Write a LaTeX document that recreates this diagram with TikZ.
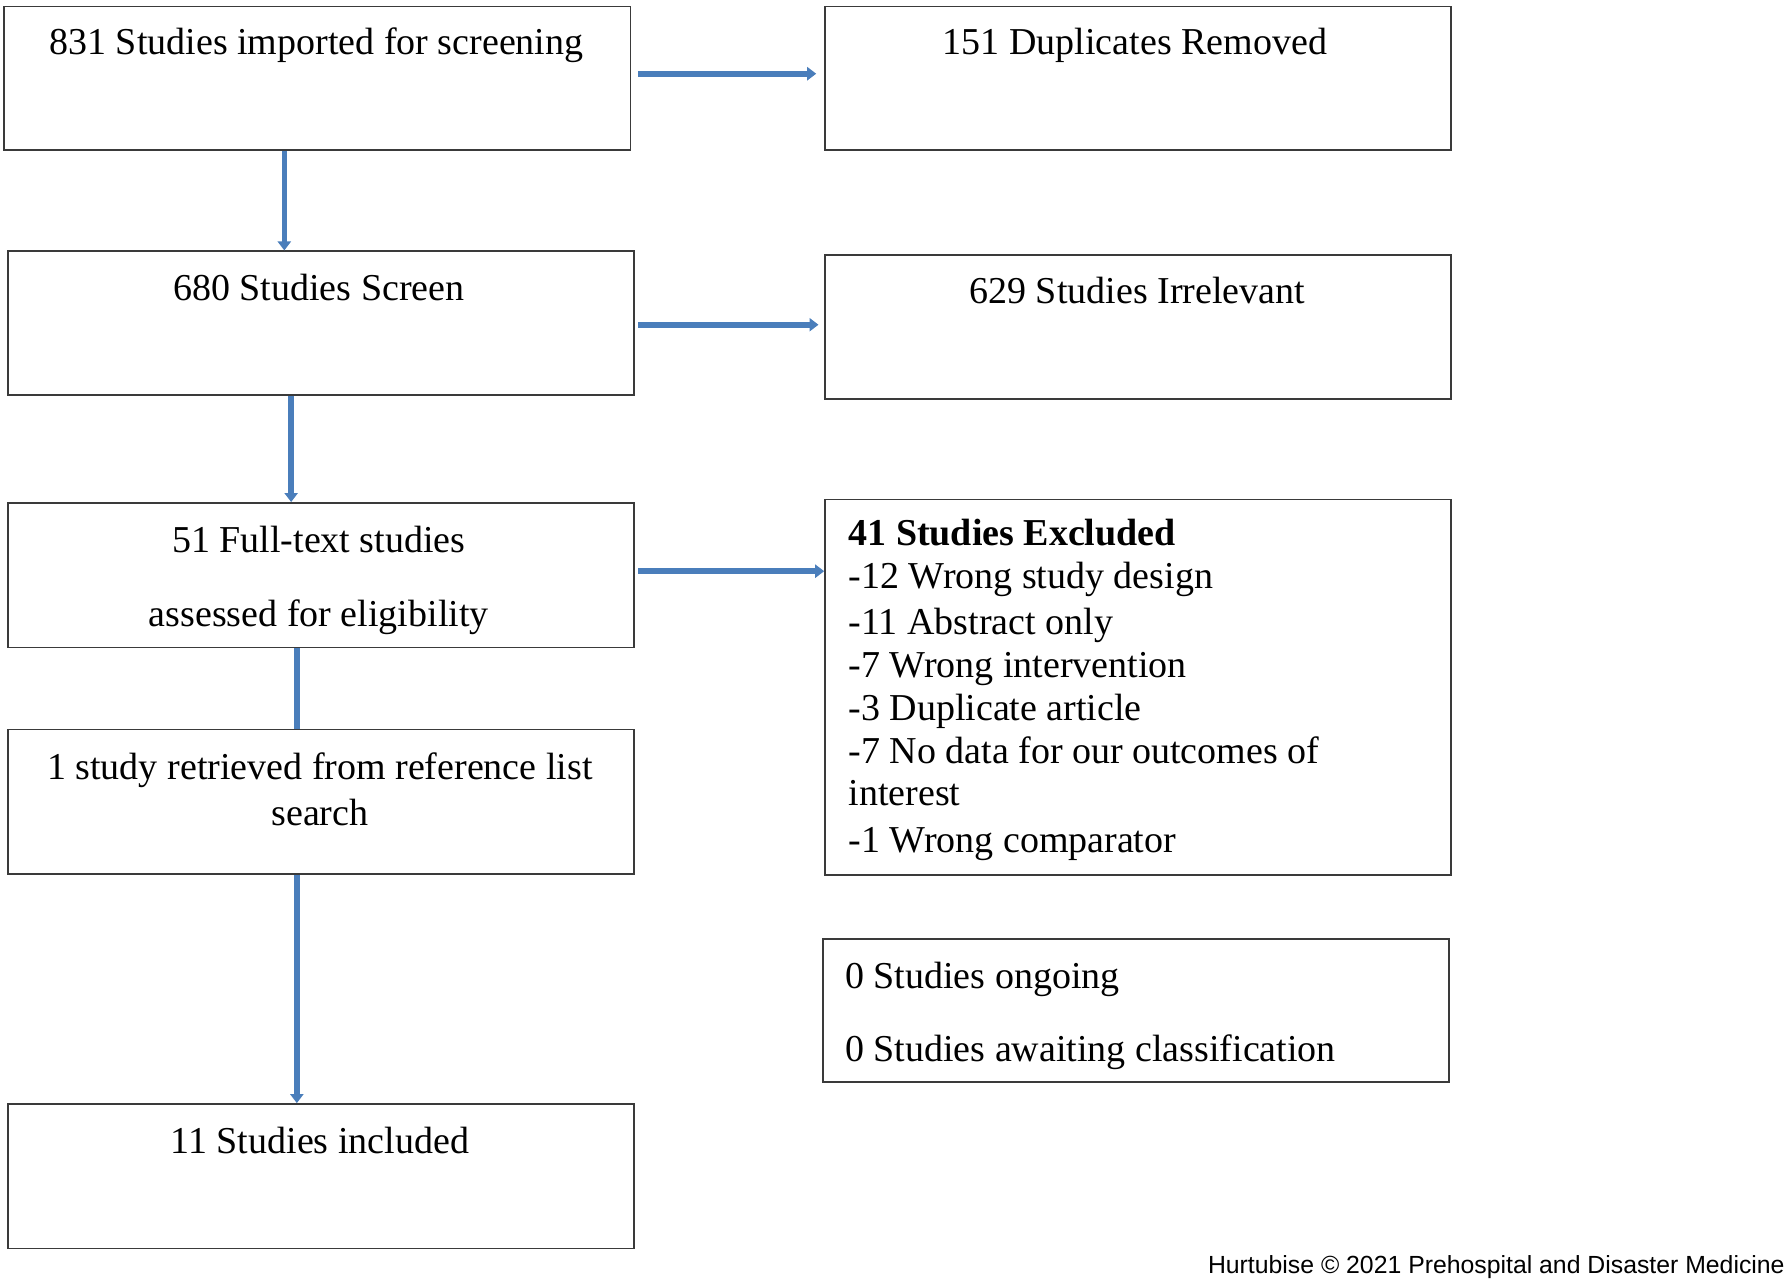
\documentclass[tikz,border=0pt]{standalone}
\usepackage{fontspec}
\setmainfont{Liberation Serif}
\newfontfamily\creditfont{Liberation Sans}
\usetikzlibrary{arrows.meta}
\definecolor{arrowblue}{HTML}{4A7EBB}
\definecolor{boxgray}{HTML}{3A3A3A}
\begin{document}
\begin{tikzpicture}[x=0.5692pt,y=-0.5692pt,
  box/.style={draw=boxgray, line width=0.85pt, minimum width=550*0.5692pt, minimum height=126*0.5692pt, inner sep=0pt, anchor=north west},
  txt/.style={anchor=base, inner sep=0pt, font=\fontsize{19}{22}\selectfont},
  ltxt/.style={anchor=base west, inner sep=0pt, font=\fontsize{19}{22}\selectfont},
  flow/.style={draw=arrowblue, line width=2.8pt, -{Triangle[width=6.5pt,length=4.5pt]}},
  flowplain/.style={draw=arrowblue, line width=2.8pt}]
\useasboundingbox (0,0) rectangle (1568,1125.3);
% boxes
\node[box] (b1) at (3,5) {};
\node[box] (b2) at (724,5) {};
\node[box] (b3) at (6,220) {};
\node[box, minimum height=127*0.5692pt] (b4) at (724,223) {};
\node[box, minimum height=127*0.5692pt] (b5) at (6,441) {};
\node[box, minimum height=330*0.5692pt] (b6) at (724,438) {};
\node[box, minimum height=127*0.5692pt] (b7) at (6,640) {};
\node[box] (b8) at (722,824) {};
\node[box, minimum height=127*0.5692pt] (b9) at (6,969) {};
% texts
\node[txt] (t1) at (278,48) {831 Studies imported for screening};
\node[txt] (t2) at (997,48) {151 Duplicates Removed};
\node[txt] (t3) at (280,264) {680 Studies Screen};
\node[txt] (t4) at (999,267) {629 Studies Irrelevant};
\node[txt] (t5a) at (280,485) {51 Full-text studies};
\node[txt] (t5b) at (280,550) {assessed for eligibility};
\node[ltxt] (t6a) at (745,479) {\bfseries 41 Studies Excluded};
\node[ltxt] (t6b) at (745,517) {-12 Wrong study design};
\node[ltxt] (t6c) at (745,557) {-11 Abstract only};
\node[ltxt] (t6d) at (745,595) {-7 Wrong intervention};
\node[ltxt] (t6e) at (745,633) {-3 Duplicate article};
\node[ltxt] (t6f) at (745,671) {-7 No data for our outcomes of};
\node[ltxt] (t6g) at (745,708) {interest};
\node[ltxt] (t6h) at (745,749) {-1 Wrong comparator};
\node[txt] (t7a) at (281,685) {1 study retrieved from reference list};
\node[txt] (t7b) at (281,725) {search};
\node[ltxt] (t8a) at (742,868) {0 Studies ongoing};
\node[ltxt] (t8b) at (742,932) {0 Studies awaiting classification};
\node[txt] (t9) at (281,1013) {11 Studies included};
\node[anchor=base east, inner sep=0pt, font=\creditfont\fontsize{12.4}{14}\selectfont] (cr) at (1568,1119) {Hurtubise © 2021 Prehospital and Disaster Medicine};
% connectors
\coordinate (s1) at ([xshift=6*0.5692pt,yshift=4*0.5692pt]b1.east);
\draw[flow] (s1) -- ([xshift=-7*0.5692pt]s1 -| b2.west);
\draw[flow] ([xshift=-29*0.5692pt]b1.south) -- ([xshift=-29*0.5692pt]b1.south |- b3.north);
\coordinate (s3) at ([xshift=3*0.5692pt,yshift=-1.5*0.5692pt]b3.east);
\draw[flow] (s3) -- ([xshift=-5*0.5692pt]s3 -| b4.west);
\draw[flow] ([xshift=-26*0.5692pt]b3.south) -- ([xshift=-26*0.5692pt]b3.south |- b5.north);
\coordinate (s5) at ([xshift=3*0.5692pt,yshift=3.5*0.5692pt]b5.east);
\draw[flow] (s5) -- (s5 -| b6.west);
\draw[flowplain] ([xshift=-21*0.5692pt]b5.south) -- ([xshift=-21*0.5692pt]b5.south |- b7.north);
\draw[flow] ([xshift=-21*0.5692pt]b7.south) -- ([xshift=-21*0.5692pt]b7.south |- b9.north);
\end{tikzpicture}
\end{document}
